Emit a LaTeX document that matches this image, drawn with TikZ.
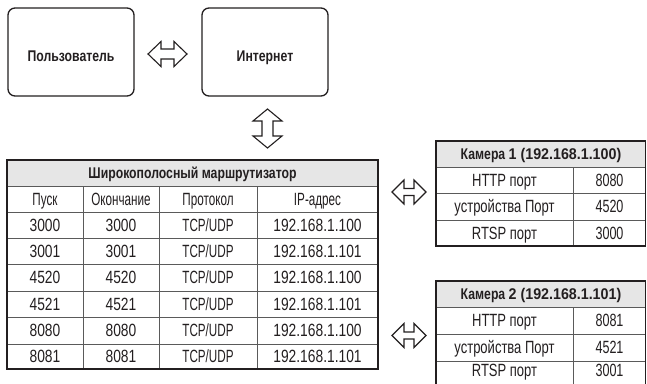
\documentclass[tikz,border=0pt]{standalone}
\usepackage{fontspec}
\setmainfont{Liberation Sans}[FakeStretch=0.66]
\newfontfamily\camfam{Liberation Sans}[FakeStretch=0.735]
\newfontfamily\numfam{Liberation Sans}[FakeStretch=0.78]
\newfontfamily\cnumfam{Liberation Sans}[FakeStretch=0.71]
\newfontfamily\boldfam{Liberation Sans}[FakeStretch=0.79]
\newfontfamily\boldnumfam{Liberation Sans}[FakeStretch=0.92]
\usetikzlibrary{calc}
\definecolor{txt}{HTML}{231F20}
\definecolor{hdr}{HTML}{E6E6E6}
\definecolor{gridc}{HTML}{5A5A5A}
\newcommand{\rtxtfont}{\fontsize{17.7}{17.7}\selectfont}
\newcommand{\rnumfont}{\numfam\fontsize{17.7}{17.7}\selectfont}
\newcommand{\ctxtfont}{\camfam\fontsize{17.7}{17.7}\selectfont}
\newcommand{\cnumfont}{\cnumfam\fontsize{17.7}{17.7}\selectfont}
\newcommand{\hdrfont}{\boldfam\fontsize{15.5}{15.5}\selectfont\bfseries}
\newcommand{\bnum}[1]{{\boldnumfam\bfseries #1}}
\tikzset{
  box/.style={draw=txt, line width=1.3pt, rounded corners=7pt, minimum width=126pt, minimum height=88pt, inner sep=0pt, font=\hdrfont, text=txt, text height=18.1pt, text depth=0pt},
  rtext/.style={inner sep=0pt, font=\rtxtfont, text=txt, anchor=base},
  rnum/.style={inner sep=0pt, font=\rnumfont, text=txt, anchor=base},
  ctext/.style={inner sep=0pt, font=\ctxtfont, text=txt, anchor=base},
  cnum/.style={inner sep=0pt, font=\cnumfont, text=txt, anchor=base},
  hcell/.style={inner sep=0pt, font=\hdrfont, text=txt, anchor=base},
  inner/.style={draw=gridc, line width=0.9pt},
  outer/.style={draw=txt, line width=1.4pt},
  arrowline/.style={draw=txt, line width=1.1pt, line join=miter, fill=white},
  pics/dblarr/.style args={#1/#2/#3/#4}{code={
    \draw[arrowline] (-#1/2,0) -- ++(#4,#2/2) -- ++(0,-#2/2+#3/2) -- (#1/2-#4,#3/2) -- ++(0,#2/2-#3/2) -- (#1/2,0) -- (#1/2-#4,-#2/2) -- ++(0,#2/2-#3/2) -- (-#1/2+#4,-#3/2) -- ++(0,-#2/2+#3/2) -- cycle;
  }}
}
\begin{document}
\begin{tikzpicture}[x=1pt,y=-1pt]
\clip (0,0) rectangle (647,383);
\fill[white] (0,0) rectangle (647,383);

% top boxes
\node[box] (user) at (71,52) {Пользователь};
\node[box] (inet) at (265,52) {Интернет};

% router table
\fill[hdr] (7,160) rectangle (378,186);
\foreach \y in {186,212,238,264,291,317,344} \draw[inner] (7,\y) -- (378,\y);
\foreach \x in {83,159,257} \draw[inner] (\x,186) -- (\x,369);
\draw[outer] (7,160) rectangle (378,369);
\node[hcell] (rt) at (192.5,178.6) {Широкополосный маршрутизатор};
\node[rtext] (c1) at (45,205.3) {Пуск};
\node[rtext] (c2) at (121,205.3) {Окончание};
\node[rtext] (c3) at (208,205.3) {Протокол};
\node[rtext] (c4) at (317.5,205.3) {IP-адрес};
\foreach \a/\b/\c [count=\i] in {3000/3000/192.168.1.100,3001/3001/192.168.1.101,4520/4520/192.168.1.100,4521/4521/192.168.1.101,8080/8080/192.168.1.100,8081/8081/192.168.1.101}{
  \pgfmathsetmacro{\yy}{205.3+26.2*\i}
  \node[rnum] (s\i) at (45,\yy) {\a};
  \node[rnum] (e\i) at (121,\yy) {\b};
  \node[rtext] (p\i) at (208,\yy) {TCP/UDP};
  \node[rnum] (ip\i) at (317.5,\yy) {\c};
}

% camera 1
\fill[hdr] (436,141) rectangle (645.5,167);
\foreach \y in {167,193,220} \draw[inner] (436,\y) -- (645.5,\y);
\draw[inner] (573,167) -- (573,246);
\draw[outer] (436,141) rectangle (645.5,246);
\node[hcell] (cam1) at (541,159.6) {Камера \bnum{1 (192.168.1.100)}};
\node[ctext] (k1a) at (504.5,186.3) {HTTP порт};
\node[cnum] (k1b) at (609.5,186.3) {8080};
\node[ctext] (k1c) at (504.5,212.8) {устройства Порт};
\node[cnum] (k1d) at (609.5,212.8) {4520};
\node[ctext] (k1e) at (504.5,239.3) {RTSP порт};
\node[cnum] (k1f) at (609.5,239.3) {3000};

% camera 2
\fill[hdr] (436,281) rectangle (645.5,307);
\foreach \y in {307,334,361} \draw[inner] (436,\y) -- (645.5,\y);
\draw[inner] (573,307) -- (573,390);
\draw[outer] (436,281) rectangle (645.5,390);
\node[hcell] (cam2) at (541,299.6) {Камера \bnum{2 (192.168.1.101)}};
\node[ctext] (k2a) at (504.5,326.8) {HTTP порт};
\node[cnum] (k2b) at (609.5,326.8) {8081};
\node[ctext] (k2c) at (504.5,353.8) {устройства Порт};
\node[cnum] (k2d) at (609.5,353.8) {4521};
\node[ctext] (k2e) at (504.5,376.5) {RTSP порт};
\node[cnum] (k2f) at (609.5,376.5) {3001};

% double arrows
\pic at ($(user.east)!0.5!(inet.west)+(-0.5,2)$) {dblarr=39/25/10/13};
\pic[rotate=90] at (267.5,128.5) {dblarr=39/29/11/12};
\pic at (409,192) {dblarr=34/24/7/12};
\pic at (409,335.5) {dblarr=34/24/7/12};
\end{tikzpicture}
\end{document}
